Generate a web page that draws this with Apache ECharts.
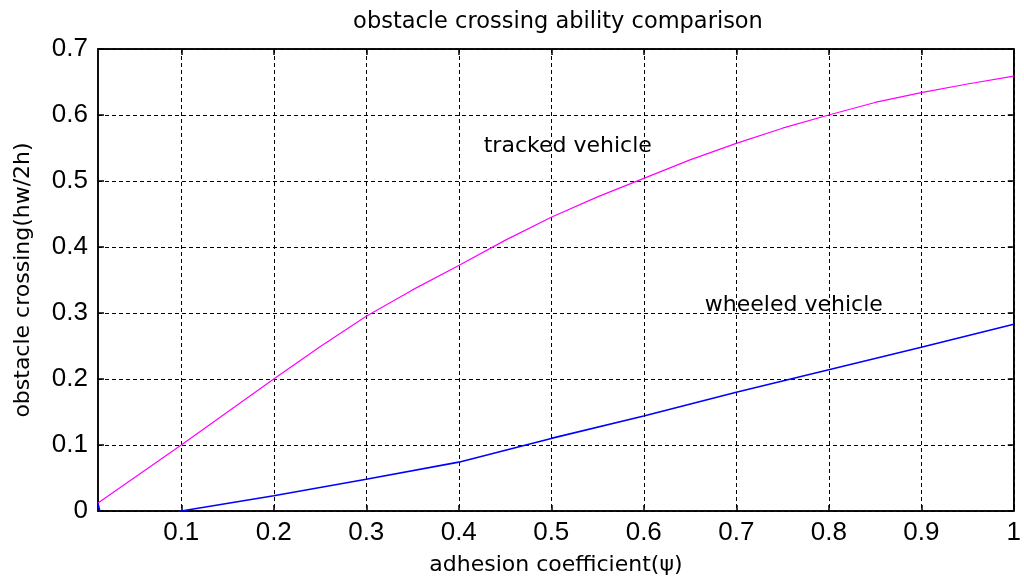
<!DOCTYPE html>
<html>
<head>
<meta charset="utf-8">
<style>
  html, body { margin: 0; padding: 0; background: #ffffff; }
  #chart { width: 1024px; height: 584px; }
</style>
<script src="https://cdn.jsdelivr.net/npm/echarts@6/dist/echarts.min.js"></script>
</head>
<body>
<div id="chart"></div>
<script>
// Adhesion coefficient samples and obstacle-crossing values (hw/2h)
const trackedX = [0.01, 0.05, 0.1, 0.15, 0.2, 0.25, 0.3, 0.35, 0.4, 0.45, 0.5, 0.55, 0.6, 0.65, 0.7, 0.75, 0.8, 0.85, 0.9, 0.95, 1.0];
const trackedY = [0.012, 0.051, 0.100, 0.150, 0.200, 0.249, 0.295, 0.335, 0.372, 0.410, 0.445, 0.476, 0.504, 0.532, 0.557, 0.580, 0.600, 0.619, 0.634, 0.647, 0.659];

const wheeledX = [0.01, 0.02, 0.05, 0.1, 0.2, 0.3, 0.4, 0.5, 0.6, 0.7, 0.8, 0.9, 1.0];
const wheeledY = [0.012, -0.05, -0.03, 0.0, 0.023, 0.048, 0.074, 0.110, 0.144, 0.180, 0.214, 0.248, 0.283];

// Axis ticks
const xTicks = [0.1, 0.2, 0.3, 0.4, 0.5, 0.6, 0.7, 0.8, 0.9, 1];
const yTicks = [0, 0.1, 0.2, 0.3, 0.4, 0.5, 0.6, 0.7];

// In-plot curve annotations
const noteText = ['tracked vehicle', 'wheeled vehicle'];
const noteX = [0.427, 0.666];
const noteY = [0.553, 0.311];

const titleText = 'obstacle crossing ability comparison';
const xName = 'adhesion coefficient(\u03c8)';
const yName = 'obstacle crossing(hw/2h)';

const textFont = 'DejaVu Sans';
const tickFont = 'Liberation Sans';

const zip = (xs, ys) => xs.map((x, i) => [x, ys[i]]);

const gridDash = { color: '#000', width: 1, type: [4, 3] };

const chart = echarts.init(document.getElementById('chart'), null, { renderer: 'canvas' });

chart.setOption({
  backgroundColor: '#ffffff',
  animation: false,
  grid: { left: 98, right: 4, top: 49, bottom: 73, show: true, borderColor: '#000', borderWidth: 1.5, backgroundColor: 'transparent' },
  graphic: [{
    type: 'text',
    x: 558, y: 11,
    style: { text: titleText, font: '22.5px "' + textFont + '"', fill: '#000', align: 'center', textAlign: 'center' }
  }],
  xAxis: [{
    type: 'value',
    min: 0.01, max: 1,
    name: xName,
    nameLocation: 'middle',
    nameGap: 43,
    nameTextStyle: { fontFamily: textFont, fontSize: 22, color: '#000' },
    axisLine: { show: true, onZero: false, lineStyle: { color: '#000', width: 1.5 } },
    axisTick: { show: true, inside: true, length: 6, customValues: xTicks, lineStyle: { color: '#000', width: 1.5 } },
    axisLabel: { customValues: xTicks, margin: 9, fontFamily: tickFont, fontSize: 26, color: '#000', showMinLabel: true, showMaxLabel: true },
    splitLine: { show: true, lineStyle: gridDash }
  }, {
    type: 'value',
    position: 'top',
    min: 0.01, max: 1,
    axisLine: { show: true, onZero: false, lineStyle: { color: '#000', width: 1.5 } },
    axisTick: { show: true, inside: true, length: 6, customValues: xTicks, lineStyle: { color: '#000', width: 1.5 } },
    axisLabel: { show: false },
    splitLine: { show: false }
  }],
  yAxis: [{
    type: 'value',
    min: 0, max: 0.7, interval: 0.1,
    name: yName,
    nameLocation: 'middle',
    nameGap: 64,
    nameRotate: 90,
    nameTextStyle: { fontFamily: textFont, fontSize: 22, color: '#000' },
    axisLine: { show: true, lineStyle: { color: '#000', width: 1.5 } },
    axisTick: { show: true, inside: true, length: 6, lineStyle: { color: '#000', width: 1.5 } },
    axisLabel: { margin: 10, fontFamily: tickFont, fontSize: 26, color: '#000', formatter: v => String(+v.toFixed(1)) },
    splitLine: { show: true, lineStyle: gridDash }
  }, {
    type: 'value',
    position: 'right',
    min: 0, max: 0.7, interval: 0.1,
    axisLine: { show: true, lineStyle: { color: '#000', width: 1.5 } },
    axisTick: { show: true, inside: true, length: 6, lineStyle: { color: '#000', width: 1.5 } },
    axisLabel: { show: false },
    splitLine: { show: false }
  }],
  series: [{
    name: 'tracked vehicle',
    type: 'line',
    data: zip(trackedX, trackedY),
    smooth: false,
    symbol: 'none',
    clip: true,
    lineStyle: { color: '#ff00ff', width: 1.2 },
    z: 5
  }, {
    name: 'wheeled vehicle',
    type: 'line',
    data: zip(wheeledX, wheeledY),
    symbol: 'none',
    clip: true,
    lineStyle: { color: '#0000ff', width: 1.6 },
    z: 5
  }, {
    name: 'notes',
    type: 'scatter',
    symbolSize: 0,
    silent: true,
    data: noteText.map((t, i) => ({ value: [noteX[i], noteY[i]], name: t })),
    label: {
      show: true, position: 'right', distance: 0,
      formatter: p => p.name,
      fontFamily: textFont, fontSize: 22, color: '#000', opacity: 1
    },
    emphasis: { disabled: true },
    z: 6
  }]
});
</script>
</body>
</html>
